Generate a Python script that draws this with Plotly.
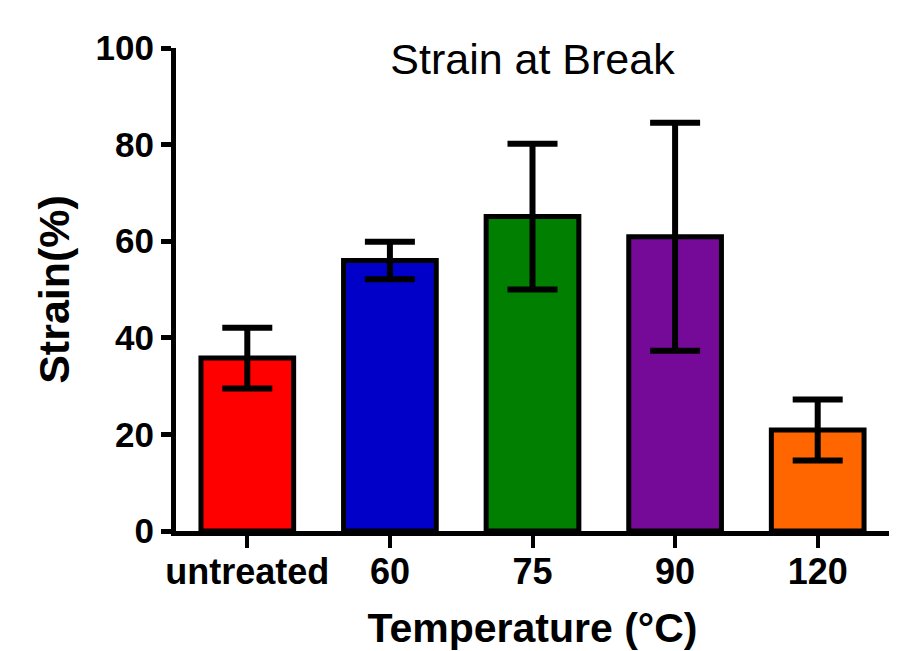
import plotly.graph_objects as go

categories = ["untreated", "60", "75", "90", "120"]
strain_mean = [35.8, 56.0, 65.1, 60.9, 20.9]
strain_err = [6.3, 3.9, 15.1, 23.6, 6.3]
bar_colors = ["#FF0000", "#0000C8", "#007F00", "#760A98", "#FF6600"]
y_ticks = [0, 20, 40, 60, 80, 100]

FONT = "Liberation Sans, Arial, sans-serif"

fig = go.Figure()
fig.add_trace(go.Bar(
    x=categories,
    y=strain_mean,
    width=0.65,
    marker=dict(color=bar_colors, line=dict(color="black", width=5)),
    error_y=dict(type="data", array=strain_err, visible=True,
                 color="black", thickness=6, width=25),
    showlegend=False,
))

fig.update_layout(
    width=907, height=651,
    margin=dict(l=176, r=18, t=48, b=120, autoexpand=False),
    paper_bgcolor="white", plot_bgcolor="white",
    title=dict(text="Strain at Break", x=0.5, xref="paper", xanchor="center",
               y=1 - 59 / 651, yref="container", yanchor="middle",
               font=dict(family=FONT, size=43, color="black")),
    xaxis=dict(
        type="category", range=[-0.5, 4.5], automargin=False,
        showline=True, linecolor="black", linewidth=5,
        ticks="outside", ticklen=12, tickwidth=4, tickcolor="black",
        showgrid=False, zeroline=False, ticklabelstandoff=-7,
        tickfont=dict(family=FONT, size=36, color="black", weight="bold"),
        title=dict(text="Temperature (°C)", standoff=25,
                   font=dict(family=FONT, size=41, color="black", weight="bold")),
    ),
    yaxis=dict(
        range=[0, 100], tickvals=y_ticks, automargin=False,
        showline=True, linecolor="black", linewidth=5,
        ticks="outside", ticklen=10, tickwidth=5, tickcolor="black",
        showgrid=False, zeroline=False,
        tickfont=dict(family=FONT, size=35, color="black", weight="bold"),
        title=dict(text="Strain(%)", standoff=14,
                   font=dict(family=FONT, size=43, color="black", weight="bold")),
    ),
)

fig.write_html("out.html")
